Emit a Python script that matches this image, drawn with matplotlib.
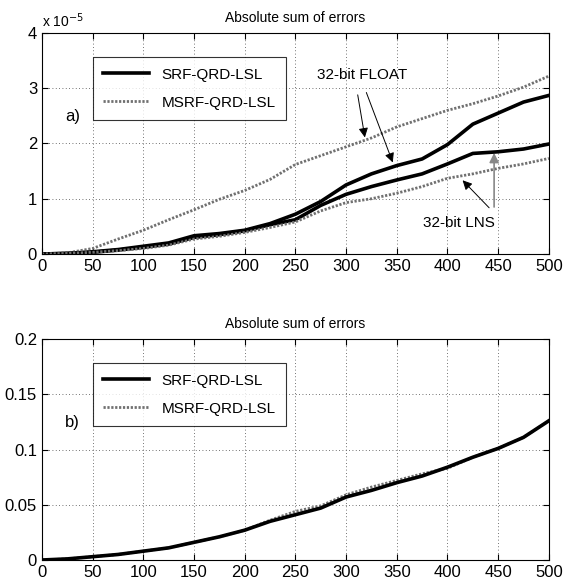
import matplotlib
matplotlib.use('Agg')
import matplotlib.pyplot as plt
from matplotlib import font_manager

# font: narrow arial-like if available
names = {f.name for f in font_manager.fontManager.ttflist}
fam = 'Liberation Sans Narrow' if 'Liberation Sans Narrow' in names else 'Liberation Sans'
plt.rcParams['font.family'] = [fam, 'DejaVu Sans']

# sample index
n = [0, 25, 50, 75, 100, 125, 150, 175, 200, 225, 250,
     275, 300, 325, 350, 375, 400, 425, 450, 475, 500]

# panel a) values in units of 1e-5
float_srf = [0, 0.01, 0.04, 0.08, 0.14, 0.20, 0.33, 0.37, 0.43, 0.55, 0.72,
             0.95, 1.25, 1.45, 1.60, 1.72, 1.98, 2.35, 2.55, 2.75, 2.87]
lns_srf = [0, 0.01, 0.03, 0.07, 0.12, 0.18, 0.30, 0.35, 0.42, 0.53, 0.62,
           0.88, 1.08, 1.22, 1.34, 1.45, 1.63, 1.82, 1.85, 1.90, 1.99]
float_msrf = [0, 0.02, 0.10, 0.27, 0.43, 0.62, 0.80, 0.99, 1.15, 1.35, 1.62,
              1.78, 1.94, 2.10, 2.30, 2.45, 2.60, 2.72, 2.86, 3.02, 3.22]
lns_msrf = [0, 0.01, 0.03, 0.06, 0.10, 0.16, 0.27, 0.32, 0.39, 0.48, 0.58,
            0.78, 0.93, 1.00, 1.10, 1.22, 1.37, 1.45, 1.55, 1.63, 1.73]

# panel b)
b_srf = [0, 0.001, 0.003, 0.005, 0.008, 0.011, 0.016, 0.021, 0.027, 0.035, 0.041,
         0.047, 0.057, 0.063, 0.070, 0.076, 0.084, 0.093, 0.101, 0.111, 0.126]
b_msrf = [0, 0.001, 0.003, 0.005, 0.008, 0.011, 0.016, 0.021, 0.027, 0.036, 0.044,
          0.049, 0.059, 0.066, 0.072, 0.078, 0.083, 0.093, 0.101, 0.111, 0.126]

x_ticks = [0, 50, 100, 150, 200, 250, 300, 350, 400, 450, 500]

fig = plt.figure(figsize=(5.67, 5.82), dpi=100)
ax1 = fig.add_axes([0.074, 0.5636, 0.894, 0.3797])
ax2 = fig.add_axes([0.074, 0.0378, 0.894, 0.3797])

solid = dict(color='black', lw=2.6)
dotted = dict(color='#707070', lw=2.0, ls=(0, (0.8, 0.6)))


def style(ax, ylim, yticks, yticklabels, title):
    ax.set_xlim(0, 500)
    ax.set_ylim(*ylim)
    ax.set_xticks(x_ticks)
    ax.set_yticks(yticks)
    ax.set_yticklabels(yticklabels)
    ax.tick_params(labelsize=12, direction='in', length=4, width=0.8, top=True, right=True)
    ax.grid(True, color='#444444', ls=(0, (1, 3)), lw=0.6)
    for s in ax.spines.values():
        s.set_linewidth(0.8)
    ax.set_title(title, fontsize=10, pad=8)


def legend(ax, handles, labels):
    leg = ax.legend(handles, labels, loc='upper left', bbox_to_anchor=(0.1, 0.891),
                    borderaxespad=0, fontsize=11, frameon=True, fancybox=False,
                    edgecolor='black', handlelength=3.0, borderpad=0.7, labelspacing=0.9)
    leg.get_frame().set_linewidth(0.8)


# top panel
ax1.plot(n, float_srf, **solid, label='SRF-QRD-LSL')
ax1.plot(n, float_msrf, **dotted, label='MSRF-QRD-LSL')
ax1.plot(n, lns_srf, **solid)
ax1.plot(n, lns_msrf, **dotted)
style(ax1, (0, 4), [0, 1, 2, 3, 4], ['0', '1', '2', '3', '4'], 'Absolute sum of errors')
ax1.text(0.0, 1.015, r'x 10$^{-5}$', transform=ax1.transAxes, fontsize=10, va='bottom', ha='left')
h, l = ax1.get_legend_handles_labels()
legend(ax1, h, l)
ax1.text(0.045, 0.6, 'a)', transform=ax1.transAxes, fontsize=12)

ax1.text(316, 3.24, '32-bit FLOAT', fontsize=11, ha='center', va='center')
arr = dict(arrowstyle='-|>', color='black', lw=0.7, mutation_scale=14)
ax1.annotate('', xy=(319, 2.06), xytext=(311, 2.93), arrowprops=arr)
ax1.annotate('', xy=(347, 1.61), xytext=(319, 2.97), arrowprops=arr)
ax1.text(411, 0.56, '32-bit LNS', fontsize=11, ha='center', va='center')
ax1.annotate('', xy=(413, 1.37), xytext=(443, 0.8), arrowprops=arr)
ax1.annotate('', xy=(446, 1.88), xytext=(446, 0.8),
             arrowprops=dict(arrowstyle='-|>', color='#888888', lw=1.2, mutation_scale=14))

# bottom panel
ax2.plot(n, b_msrf, **dotted, label='MSRF-QRD-LSL')
ax2.plot(n, b_srf, **solid, label='SRF-QRD-LSL')
style(ax2, (0, 0.2), [0, 0.05, 0.1, 0.15, 0.2], ['0', '0.05', '0.1', '0.15', '0.2'],
      'Absolute sum of errors')
h, l = ax2.get_legend_handles_labels()
legend(ax2, h[::-1], l[::-1])
ax2.text(0.045, 0.6, 'b)', transform=ax2.transAxes, fontsize=12)

fig.savefig('out.png', dpi=100)
